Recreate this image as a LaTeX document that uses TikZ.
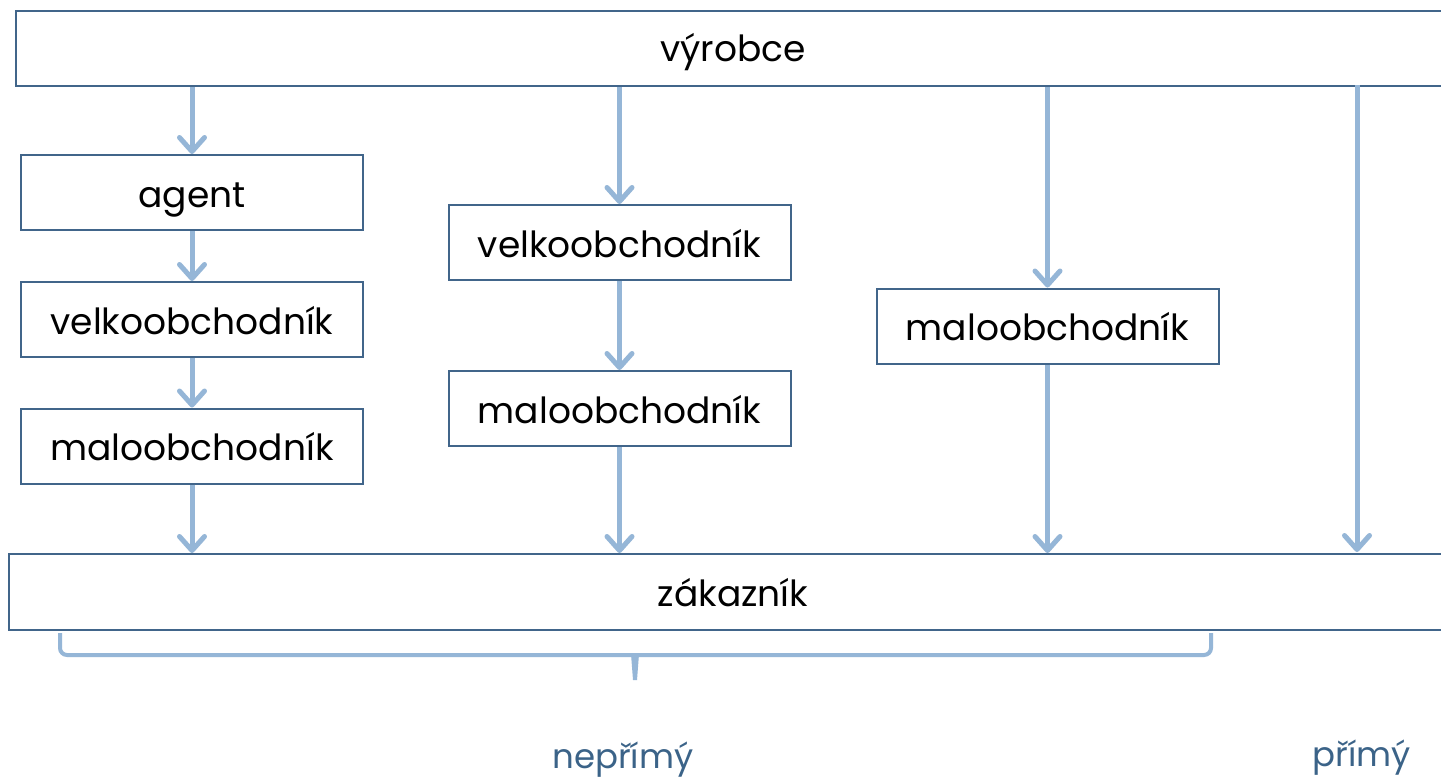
\documentclass[tikz,border=0pt]{standalone}
\usepackage{fontspec}
\setmainfont{Poppins}
\usetikzlibrary{arrows.meta}
\definecolor{boxline}{HTML}{41658A}
\definecolor{flow}{HTML}{95B6D7}
\definecolor{label}{HTML}{3B6388}
\tikzset{
  boxfont/.style={font=\fontsize{36}{40}\selectfont},
  box/.style={draw=boxline, line width=2pt, fill=white, minimum width=342pt,
    minimum height=75pt, inner sep=0pt, text height=29pt, text depth=0pt, boxfont},
  wide/.style={draw=boxline, line width=2pt, fill=white, minimum width=1500pt,
    minimum height=75pt, inner sep=0pt},
  bartext/.style={boxfont, anchor=base, inner sep=0pt},
  flowarrow/.style={draw=flow, line width=5pt,
    -{Straight Barb[length=14pt, width=25pt, line cap=round, line join=round]}},
  bracket/.style={draw=flow, line width=4pt, rounded corners=7pt},
  kind/.style={text=label, font=\fontsize{34}{38}\selectfont, inner sep=0pt}
}
\begin{document}
\begin{tikzpicture}[x=1pt, y=-1pt]
  \useasboundingbox (0,0) rectangle (1441,782);
  \clip (0,0) rectangle (1441,782);
  \fill[white] (0,0) rectangle (1441,782);

  % producer and customer bars
  \node[wide, anchor=north west] (prod) at (15,10) {};
  \node[bartext] (prodtext) at (733,61) {výrobce};
  \node[wide, anchor=north west, minimum height=76pt] (cust) at (8,553) {};
  \node[bartext] (custtext) at (733,606) {zákazník};

  % three-level chain
  \node[box] (agent) at (192,192.5) {agent};
  \node[box] (wh1) at (192,319.5) {velkoobchodník};
  \node[box] (rt1) at (192,446) {maloobchodník};

  % two-level chain
  \node[box] (wh2) at (619.5,242.5) {velkoobchodník};
  \node[box] (rt2) at (619.5,408.5) {maloobchodník};

  % one-level chain
  \node[box] (rt3) at (1047.5,326) {maloobchodník};

  % direct channel
  \coordinate (dtop) at (1357,85);
  \coordinate (dbot) at (1357,552);

  % flows
  \draw[flowarrow] (prod.south -| agent) -- (agent.north);
  \draw[flowarrow] (agent) -- (wh1);
  \draw[flowarrow] (wh1) -- (rt1);
  \draw[flowarrow] (rt1.south) -- (rt1.south |- cust.north);

  \draw[flowarrow] (prod.south -| wh2) -- (wh2.north);
  \draw[flowarrow] (wh2) -- (rt2);
  \draw[flowarrow] (rt2.south) -- (rt2.south |- cust.north);

  \draw[flowarrow] (prod.south -| rt3) -- (rt3.north);
  \draw[flowarrow] (rt3.south) -- (rt3.south |- cust.north);

  \draw[flowarrow] (dtop) -- (dbot);

  % grouping bracket for indirect channels
  \coordinate (bl) at (60,633);
  \coordinate (br) at (1211,633);
  \coordinate (bm) at (635,655);
  \draw[bracket] (bl) |- (bm) -- (br |- bm) -- (br);
  \fill[flow] (631,654) -- (639,654) -- (637,680) -- (633,680) -- cycle;

  % channel labels
  \node[kind, anchor=base] (ind) at (623,768) {nepřímý};
  \node[kind, anchor=base] (dir) at (1362,766) {přímý};
\end{tikzpicture}
\end{document}
